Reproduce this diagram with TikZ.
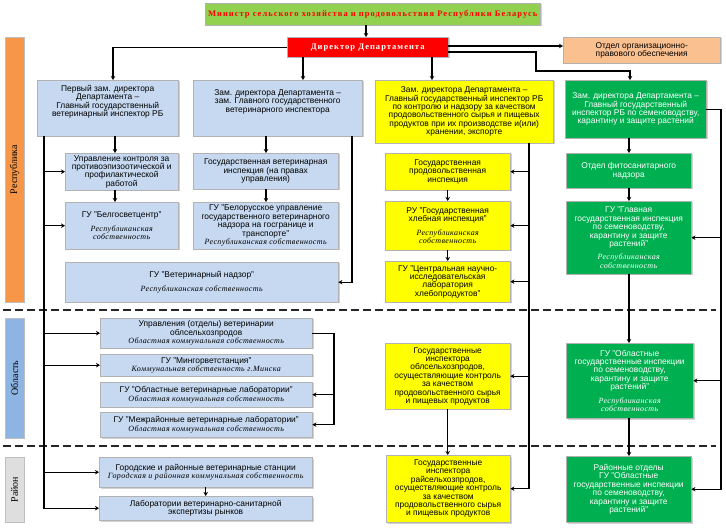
\documentclass[tikz,border=0pt]{standalone}
\usepackage{fontspec}
\setmainfont{Liberation Sans}
\newfontfamily\serifls[LetterSpace=12]{Liberation Serif}
\newfontfamily\serifplain{Liberation Serif}
\newfontfamily\itfont[LetterSpace=5]{Liberation Serif}
\usetikzlibrary{arrows.meta,shadows}
\definecolor{cblue}{RGB}{198,217,241}
\definecolor{cgreen}{RGB}{0,176,80}
\definecolor{cyel}{RGB}{255,255,0}
\definecolor{cred}{RGB}{255,0,0}
\definecolor{clime}{RGB}{146,208,80}
\definecolor{cpeach}{RGB}{250,192,144}
\definecolor{corange}{RGB}{247,150,70}
\definecolor{cobl}{RGB}{141,180,226}
\definecolor{cray}{RGB}{222,222,222}
\newcommand\ital[1]{{\itfont\itshape\fontsize{8}{8.4}\selectfont #1}}
\newcommand\mkbox[7]{%
  \pgfmathsetmacro\mbW{#5-#3}%
  \pgfmathsetmacro\mbH{#6-#4}%
  \node[#1, anchor=north west, minimum width=\mbW pt, minimum height=\mbH pt] (#2) at (#3,#4) {#7};}
\begin{document}
\begin{tikzpicture}[x=1pt,y=-1pt,
  base/.style={draw=black!30, line width=0.4pt, inner sep=1pt, align=center,
    font=\fontsize{8.4}{8.4}\selectfont,
    drop shadow={shadow xshift=1.3pt, shadow yshift=-1.3pt, opacity=0.35}},
  blue/.style={base, fill=cblue},
  yel/.style={base, fill=cyel},
  grn/.style={base, fill=cgreen, text=white},
  minst/.style={base, fill=clime, text=cred, font=\serifls\bfseries\fontsize{8.5}{9}\selectfont},
  dirst/.style={base, fill=cred, text=white, font=\serifls\bfseries\fontsize{8.5}{9}\selectfont},
  orgst/.style={base, fill=cpeach},
  sidebar/.style={draw=black!25, line width=0.4pt, inner sep=0pt, rotate=90,
    font=\serifplain\fontsize{10}{10}\selectfont,
    drop shadow={shadow xshift=1.3pt, shadow yshift=-1.3pt, opacity=0.35}},
  arr/.style={draw=black, line width=1.1pt, -{Stealth[length=4pt,width=4.5pt]}},
  dashl/.style={draw=black!85, line width=1.3pt, dash pattern=on 8pt off 4pt}
]
\useasboundingbox (0,0) rectangle (726,529);
\fill[white] (0,0) rectangle (726,529);

% side bars
\node[sidebar, fill=corange, minimum width=265pt, minimum height=19pt] (rep) at (14.5,169.5) {Республика};
\node[sidebar, fill=cobl, minimum width=120pt, minimum height=19pt] (obl) at (14.5,378) {Область};
\node[sidebar, fill=cray, minimum width=65pt, minimum height=19pt] (ray) at (14.5,489.5) {Район};

% dashed separators
\coordinate (dA1) at (3,310); \coordinate (dA2) at (716,310);
\coordinate (dB1) at (3,446); \coordinate (dB2) at (716,446);
\draw[dashl] (dA1) -- (dA2);
\draw[dashl] (dB1) -- (dB2);

% top
\mkbox{minst}{min}{205}{3}{540}{25}{Министр сельского хозяйства и продовольствия Республики Беларусь}
\mkbox{dirst}{dir}{287}{37}{448}{57}{Директор Департамента}
\mkbox{orgst}{org}{563}{37}{720}{63}{Отдел организационно-\\правового обеспечения}

% deputies
\mkbox{blue}{d1}{37}{80}{178}{136}{Первый зам. директора\\Департамента –\\Главный государственный\\ветеринарный инспектор РБ\\[6pt]}
\mkbox{blue}{d2}{193}{80}{362}{136}{Зам. директора Департамента –\\зам. Главного государственного\\ветеринарного инспектора\\[6pt]}
\mkbox{yel}{d3}{375}{80}{553}{143}{Зам. директора Департамента –\\Главный государственный инспектор РБ\\по контролю и надзору за качеством\\продовольственного сырья и пищевых\\продуктов при их производстве и(или)\\хранении, экспорте}
\mkbox{grn}{d4}{565}{80}{706}{138}{Зам. директора Департамента –\\Главный государственный\\инспектор РБ по семеноводству,\\карантину и защите растений}

% republic level
\mkbox{blue}{upr}{65}{153}{178}{190}{Управление контроля за\\противоэпизоотической и\\профилактической\\работой}
\mkbox{blue}{belg}{65}{202}{178}{249}{ГУ "Белгосветцентр"\\[5pt]\ital{Республиканская}\\\ital{собственность}}
\mkbox{blue}{gvi}{193}{153}{338}{189}{Государственная ветеринарная\\инспекция (на правах\\управления)}
\mkbox{blue}{bel}{193}{202}{338}{249}{ГУ "Белорусское управление\\государственного ветеринарного\\надзора на госгранице и\\транспорте"\\\ital{Республиканская собственность}}
\mkbox{blue}{vn}{65}{262}{338}{302}{ГУ "Ветеринарный надзор"\\[6pt]\ital{Республиканская собственность}}
\mkbox{yel}{gpi}{385}{153}{510}{190}{Государственная\\продовольственная\\инспекция}
\mkbox{yel}{ru}{385}{201}{510}{250}{РУ "Государственная\\хлебная инспекция"\\[5pt]\ital{Республиканская}\\\ital{собственность}}
\mkbox{yel}{cnil}{385}{261}{510}{302}{ГУ "Центральная научно-\\исследовательская\\лаборатория\\хлебопродуктов"}
\mkbox{grn}{fito}{566}{153}{691}{188}{Отдел фитосанитарного\\надзора}
\mkbox{grn}{glav}{566}{201}{691}{274}{ГУ "Главная\\государственная инспекция\\по семеноводству,\\карантину и защите\\растений"\\[5pt]\ital{Республиканская}\\\ital{собственность}}

% oblast level
\mkbox{blue}{ob1}{100}{318}{312}{348}{Управления (отделы) ветеринарии\\облсельхозпродов\\\ital{Областная коммунальная собственность}}
\mkbox{blue}{ob2}{100}{354}{312}{376}{ГУ "Мингорветстанция"\\\ital{Коммунальная собственность г.Минска}}
\mkbox{blue}{ob3}{100}{382}{312}{407}{ГУ "Областные ветеринарные лаборатории"\\\ital{Областная коммунальная собственность}}
\mkbox{blue}{ob4}{100}{412}{312}{437}{ГУ "Межрайонные ветеринарные лаборатории"\\\ital{Областная коммунальная собственность}}
\mkbox{yel}{oby}{385}{343}{510}{409}{Государственные\\инспектора\\облсельхозпродов,\\осуществляющие контроль\\за качеством\\продовольственного сырья\\и пищевых продуктов}
\mkbox{grn}{obg}{566}{343}{693}{418}{ГУ "Областные\\государственные инспекции\\по семеноводству,\\карантину и защите\\растений"\\[5pt]\ital{Республиканская}\\\ital{собственность}}

% raion level
\mkbox{blue}{r1}{99}{457}{312}{487}{Городские и районные ветеринарные станции\\\ital{Городская и районная коммунальная собственность}}
\mkbox{blue}{r2}{99}{496}{312}{520}{Лаборатории ветеринарно-санитарной\\экспертизы рынков}
\mkbox{yel}{ry}{386}{455}{510}{522}{Государственные\\инспектора\\райсельхозпродов,\\осуществляющие контроль\\за качеством\\продовольственного сырья\\и пищевых продуктов}
\mkbox{grn}{rg}{566}{456}{691}{522}{Районные отделы\\ГУ "Областные\\государственные инспекции\\по семеноводству,\\карантину и защите\\растений"}

% helper coordinates
\coordinate (xMin) at (366,0);
\coordinate (xA) at (113,0);
\coordinate (xB) at (303,0);
\coordinate (xC) at (432,0);
\coordinate (yOrg) at (0,46);
\coordinate (yD4) at (0,52);
\coordinate (bendA) at (536,71);
\coordinate (xE) at (630,0);
\coordinate (tL) at (44,0);
\coordinate (tD1) at (115,0);
\coordinate (tD2) at (266,0);
\coordinate (tB) at (352,0);
\coordinate (tO) at (334,0);
\coordinate (tY) at (529,0);
\coordinate (tG2) at (629,0);
\coordinate (tG) at (721,0);

% connectors
\draw[arr] (xMin |- min.south) -- (xMin |- dir.north);
\draw[arr] (dir.west) -| (xA |- d1.north);
\draw[arr] (xB |- dir.south) -- (xB |- d2.north);
\draw[arr] (xC |- dir.south) -- (xC |- d3.north);
\draw[arr] (dir.east |- yOrg) -- (org.west |- yOrg);
\draw[arr] (dir.east |- yD4) -| (bendA) -| (xE |- d4.north);

\draw[arr] (tD1 |- d1.south) -- (tD1 |- upr.north);
\draw[arr] (tD1 |- upr.south) -- (tD1 |- belg.north);
\draw[arr] (tL |- d1.south) |- (r2.west);
\foreach \n in {upr,belg,ob1,ob2,r1} \draw[arr] (tL |- \n.west) -- (\n.west);
\draw[arr] (tD2 |- d2.south) -- (tD2 |- gvi.north);
\draw[arr] (tD2 |- gvi.south) -- (tD2 |- bel.north);
\draw[arr] (tB |- d2.south) |- (vn.east);
\draw[arr] (ob1.east) -| (tO |- ob4.east) -- (ob4.east);
\draw[arr] (tO |- ob3.east) -- (ob3.east);
\draw[arr] (r1.south) -- (r1.south |- r2.north);

\draw[arr] (tY |- d3.south) |- (ry.east);
\foreach \n in {gpi,ru,cnil,oby} \draw[arr] (tY |- \n.east) -- (\n.east);
\draw[arr] (gpi.south) -- (gpi.south |- ru.north);
\draw[arr] (ru.south) -- (ru.south |- cnil.north);
\draw[arr] (oby.south) -- (oby.south |- ry.north);

\draw[arr] (tG2 |- d4.south) -- (tG2 |- fito.north);
\draw[arr] (tG2 |- fito.south) -- (tG2 |- glav.north);
\draw[arr] (tG2 |- glav.south) -- (tG2 |- obg.north);
\draw[arr] (tG2 |- obg.south) -- (tG2 |- rg.north);
\draw[arr] (d4.east) -| (tG |- rg.east) -- (rg.east);
\foreach \n in {glav,obg} \draw[arr] (tG |- \n.east) -- (\n.east);
\end{tikzpicture}
\end{document}
